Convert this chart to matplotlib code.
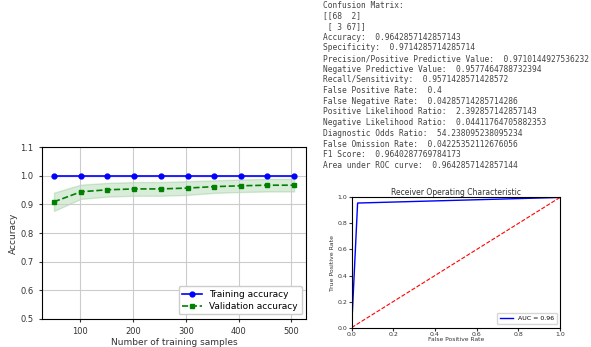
import numpy as np
import matplotlib
matplotlib.use("Agg")
import matplotlib.pyplot as plt

# ---- data ----
train_sizes = [50, 101, 151, 202, 252, 303, 353, 404, 454, 505]
train_acc = [1.0, 1.0, 1.0, 1.0, 1.0, 1.0, 1.0, 1.0, 1.0, 1.0]
val_acc = [0.909, 0.944, 0.951, 0.954, 0.954, 0.957, 0.962, 0.965, 0.967, 0.967]
val_std = [0.032, 0.025, 0.024, 0.024, 0.024, 0.024, 0.022, 0.022, 0.022, 0.022]
train_std = [0.0, 0.0, 0.0, 0.0, 0.0, 0.0, 0.0, 0.0, 0.0, 0.0]

fpr = [0.0, 0.0286, 1.0]
tpr = [0.0, 0.957, 1.0]
auc_label = "AUC = 0.96"

report_lines = [
    "Confusion Matrix:",
    "[[68  2]",
    " [ 3 67]]",
    "Accuracy:  0.9642857142857143",
    "Specificity:  0.9714285714285714",
    "Precision/Positive Predictive Value:  0.9710144927536232",
    "Negative Predictive Value:  0.9577464788732394",
    "Recall/Sensitivity:  0.9571428571428572",
    "False Positive Rate:  0.4",
    "False Negative Rate:  0.04285714285714286",
    "Positive Likelihood Ratio:  2.392857142857143",
    "Negative Likelihood Ratio:  0.04411764705882353",
    "Diagnostic Odds Ratio:  54.238095238095234",
    "False Omission Rate:  0.04225352112676056",
    "F1 Score:  0.9640287769784173",
    "Area under ROC curve:  0.9642857142857144",
]

fig = plt.figure(figsize=(5.91, 3.47), dpi=100)
fig.patch.set_facecolor("white")

# ---- learning curve ----
ax = fig.add_axes([0.071, 0.081, 0.447, 0.495])
tx = np.array(train_sizes)
ta = np.array(train_acc); ts = np.array(train_std)
va = np.array(val_acc); vs = np.array(val_std)
ax.plot(tx, ta, color="blue", marker="o", markersize=3.5, linewidth=1.2,
        label="Training accuracy")
ax.fill_between(tx, ta - ts, ta + ts, alpha=0.15, color="blue")
ax.plot(tx, va, color="green", linestyle="--", marker="s", markersize=3.5,
        linewidth=1.2, label="Validation accuracy")
ax.fill_between(tx, va - vs, va + vs, alpha=0.15, color="green")
ax.set_ylim(0.5, 1.1)
ax.set_yticks([0.5, 0.6, 0.7, 0.8, 0.9, 1.0, 1.1])
ax.set_xticks([100, 200, 300, 400, 500])
ax.grid(True, color="#cccccc", linewidth=0.8)
ax.tick_params(labelsize=6, length=2.5, colors="#333333", labelcolor="#333333")
ax.set_xlabel("Number of training samples", fontsize=6.5, color="#333333", labelpad=1)
ax.set_ylabel("Accuracy", fontsize=6.5, color="#333333", labelpad=2)
ax.legend(loc="lower right", fontsize=6.5, handlelength=2.2, borderpad=0.4,
          labelspacing=0.3, framealpha=1.0)

# ---- text report ----
fig.text(0.546, 0.998, "\n".join(report_lines), family="DejaVu Sans Mono",
         fontsize=5.7, color="#444444", va="top", ha="left", linespacing=1.24)

# ---- ROC ----
ax2 = fig.add_axes([0.595, 0.056, 0.3525, 0.375])
ax2.plot(fpr, tpr, color="blue", linewidth=1.0, label=auc_label)
ax2.plot([0, 1], [0, 1], "r--", linewidth=0.8)
ax2.set_xlim(0, 1)
ax2.set_ylim(0, 1)
ax2.set_title("Receiver Operating Characteristic", fontsize=5.5, pad=2, color="#333333")
ax2.set_ylabel("True Positive Rate", fontsize=4.5, labelpad=2, color="#333333")
ax2.set_xlabel("False Positive Rate", fontsize=4.3, labelpad=0, color="#333333")
ax2.tick_params(labelsize=4.5, length=2, pad=1.2, colors="#333333")
ax2.legend(loc="lower right", fontsize=4.5, handlelength=2.0, borderpad=0.5)

fig.savefig("out.png", dpi=100)
